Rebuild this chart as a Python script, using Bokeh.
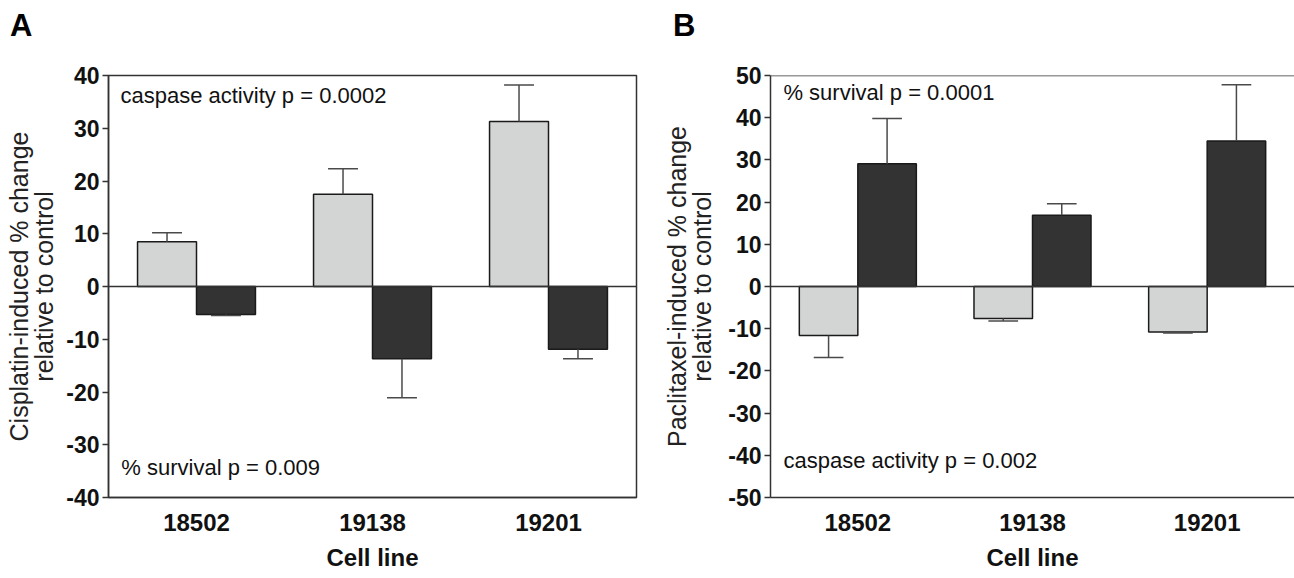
import math
from bokeh.plotting import figure
from bokeh.layouts import row, column
from bokeh.models import ColumnDataSource, Span, Label, FactorRange, Range1d, Div
from bokeh.transform import dodge
from bokeh.embed import file_html
from bokeh.resources import INLINE

# ---------------- data ----------------
cells = ["18502", "19138", "19201"]

a_caspase = [8.5, 17.5, 31.3]
a_caspase_err = [1.7, 4.8, 6.9]
a_survival = [-5.3, -13.7, -11.9]
a_survival_err = [0.2, 7.4, 1.8]

b_caspase = [-11.6, -7.6, -10.8]
b_caspase_err = [5.2, 0.6, 0.2]
b_survival = [29.1, 16.9, 34.5]
b_survival_err = [10.7, 2.7, 13.3]

a_ticks = [-40, -30, -20, -10, 0, 10, 20, 30, 40]
b_ticks = [-50, -40, -30, -20, -10, 0, 10, 20, 30, 40, 50]

a_ylabel = "Cisplatin-induced % change\nrelative to control"
b_ylabel = "Paclitaxel-induced % change\nrelative to control"
xlabel = "Cell line"

# ---------------- style ----------------
SANS = "Liberation Sans"
LIGHT = "#d3d5d4"
DARK = "#333333"
AXC = "#333333"
ERRC = "#4a4a4a"
OFF = 0.1675
W = 0.335
CAP = 0.085
HEAD = 40  # height of the strip that carries the panel letters


def add_series(p, means, errs, color, off):
    tips = [m + (e if m >= 0 else -e) for m, e in zip(means, errs)]
    src = ColumnDataSource(dict(cell=cells, mean=means, tip=tips))
    p.vbar(x=dodge("cell", off, range=p.x_range), top="mean", bottom=0, width=W,
           source=src, fill_color=color, line_color="#1a1a1a", line_width=1.5)
    p.segment(x0=dodge("cell", off, range=p.x_range), x1=dodge("cell", off, range=p.x_range),
              y0="mean", y1="tip", source=src, line_color=ERRC, line_width=1.5)
    p.segment(x0=dodge("cell", off - CAP, range=p.x_range), x1=dodge("cell", off + CAP, range=p.x_range),
              y0="tip", y1="tip", source=src, line_color=ERRC, line_width=1.5)


def make_panel(width, ymin, ymax, ticks, ylabel, borders, label_standoff, box):
    left, right, top, bottom = borders
    p = figure(width=width, height=578 - HEAD, x_range=FactorRange(*cells),
               y_range=Range1d(ymin, ymax), output_backend="svg", toolbar_location=None,
               min_border_left=left, min_border_right=right, min_border_top=top - HEAD,
               min_border_bottom=bottom)

    p.xgrid.grid_line_color = None
    p.ygrid.grid_line_color = None
    p.background_fill_color = "white"
    p.border_fill_color = "white"
    if box:
        p.outline_line_color = AXC
        p.outline_line_width = 1.5
        p.outline_line_alpha = 1.0
    else:
        p.outline_line_color = None
        p.add_layout(Span(location=ymax, dimension="width", line_color=AXC, line_width=1.5))

    ya = p.yaxis[0]
    ya.ticker = ticks
    ya.major_label_overrides = {t: str(t) for t in ticks}
    ya.minor_tick_line_color = None
    ya.major_tick_out = 6
    ya.major_tick_in = 0
    ya.major_tick_line_color = AXC
    ya.major_tick_line_width = 1.5
    ya.axis_line_color = AXC
    ya.axis_line_width = 1.5
    ya.major_label_text_font = SANS
    ya.major_label_text_font_style = "bold"
    ya.major_label_text_font_size = "23px"
    ya.major_label_text_color = "#111111"
    ya.major_label_standoff = 3
    ya.axis_label = ylabel
    ya.axis_label_text_font = SANS
    ya.axis_label_text_font_style = "normal"
    ya.axis_label_text_font_size = "25px"
    ya.axis_label_text_color = "#222222"
    ya.axis_label_text_line_height = 0.9
    ya.axis_label_standoff = label_standoff

    xa = p.xaxis[0]
    xa.major_tick_out = 0
    xa.major_tick_in = 0
    xa.minor_tick_line_color = None
    xa.axis_line_color = AXC
    xa.axis_line_width = 1.5
    xa.major_label_text_font = SANS
    xa.major_label_text_font_style = "bold"
    xa.major_label_text_font_size = "24px"
    xa.major_label_text_color = "#111111"
    xa.major_label_standoff = 16
    xa.axis_label = xlabel
    xa.axis_label_text_font = SANS
    xa.axis_label_text_font_style = "bold"
    xa.axis_label_text_font_size = "24px"
    xa.axis_label_text_color = "#111111"
    xa.axis_label_standoff = 10

    p.add_layout(Span(location=0, dimension="width", line_color=AXC, line_width=1.5))
    return p


def note(p, x, y, text):
    p.add_layout(Label(x=x, y=y, text=text, text_font=SANS, text_font_size="22px",
                       text_color="#111111", text_baseline="alphabetic", text_align="left"))


def letter_div(text, width, pad_left):
    html = ('<div style="font-family: \'Liberation Sans\', sans-serif; font-weight: bold; '
            'font-size: 31px; line-height: 1; color: #000; '
            'padding-left: %dpx; padding-top: 10px; margin: 0;">%s</div>' % (pad_left, text))
    return Div(text=html, width=width, height=HEAD, margin=0)


# ---------------- panel A ----------------
pa = make_panel(640, -40, 40, a_ticks, a_ylabel, (108, 4, 72, 81), 5, True)
add_series(pa, a_caspase, a_caspase_err, LIGHT, -OFF)
add_series(pa, a_survival, a_survival_err, DARK, OFF)
note(pa, 0.068, 36.3, "caspase activity p = 0.0002")
note(pa, 0.073, -34.4, "% survival  p = 0.009")

# ---------------- panel B ----------------
pb = make_panel(654, -50, 50, b_ticks, b_ylabel, (130, 0, 75, 78), 9, False)
add_series(pb, b_caspase, b_caspase_err, LIGHT, -OFF)
add_series(pb, b_survival, b_survival_err, DARK, OFF)
note(pb, 0.074, 45.9, "% survival p = 0.0001")
note(pb, 0.074, -41.3, "caspase activity p = 0.002")

layout = column(row(letter_div("A", 640, 10), letter_div("B", 654, 33)), row(pa, pb))
open("out.html", "w").write(file_html(layout, INLINE))
